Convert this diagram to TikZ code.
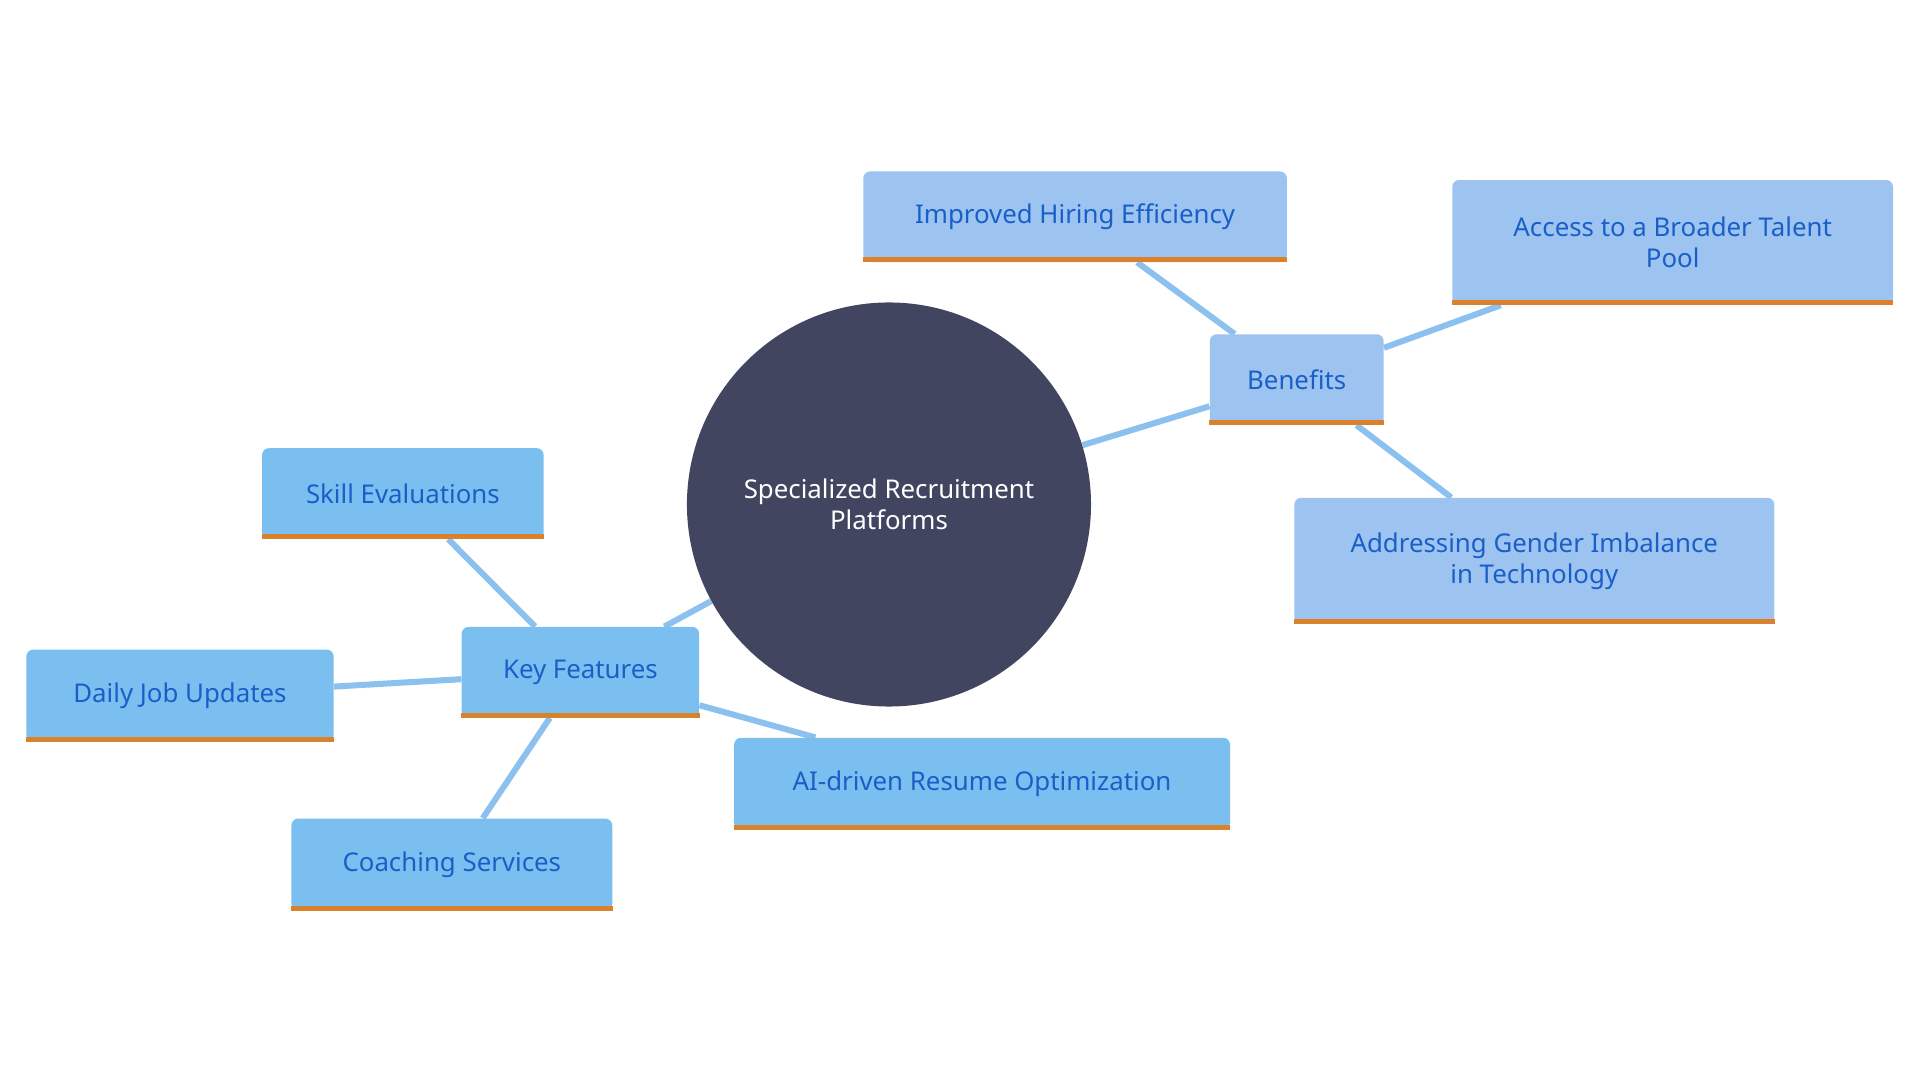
\documentclass[tikz,border=0pt]{standalone}
\usepackage{fontspec}
\setmainfont{Noto Sans}
\usetikzlibrary{backgrounds}
\definecolor{hub}{HTML}{414560}
\definecolor{benefit}{HTML}{9DC3F0}
\definecolor{feature}{HTML}{7BBFF0}
\definecolor{bluetext}{HTML}{1A5FC8}
\definecolor{edgeblue}{HTML}{8CC0EE}
\definecolor{bar}{HTML}{D9822B}
\tikzset{
  box/.style={rectangle, rounded corners=4pt, text=bluetext, align=center,
    font=\fontsize{15}{18}\selectfont, inner sep=0pt},
  ben/.style={box, fill=benefit},
  feat/.style={box, fill=feature},
  link/.style={edgeblue, line width=3.5pt},
}
\begin{document}
\begin{tikzpicture}[x=0.025cm, y=-0.025cm]
\useasboundingbox (0,0) rectangle (1568,882);

\node[circle, fill=hub, minimum size=330*0.025cm, text=white, align=center,
  font=\fontsize{15}{18}\selectfont] (hub) at (726,412) {Specialized Recruitment\\Platforms};

\node[ben, minimum width=346*0.025cm, minimum height=74*0.025cm] (hiring) at (878,177) {Improved Hiring Efficiency};
\node[ben, minimum width=360*0.025cm, minimum height=102*0.025cm] (talent) at (1366,198) {Access to a Broader Talent\\Pool};
\node[ben, minimum width=142*0.025cm, minimum height=74*0.025cm] (benefits) at (1059,310) {Benefits};
\node[ben, minimum width=392*0.025cm, minimum height=103*0.025cm] (gender) at (1253,458) {Addressing Gender Imbalance\\in Technology};

\node[feat, minimum width=230*0.025cm, minimum height=74*0.025cm] (skill) at (329,403) {Skill Evaluations};
\node[feat, minimum width=194*0.025cm, minimum height=74*0.025cm] (keyfeat) at (474,549) {Key Features};
\node[feat, minimum width=251*0.025cm, minimum height=75*0.025cm] (daily) at (147,568) {Daily Job Updates};
\node[feat, minimum width=405*0.025cm, minimum height=75*0.025cm] (resume) at (802,640) {AI-driven Resume Optimization};
\node[feat, minimum width=262*0.025cm, minimum height=75*0.025cm] (coach) at (369,706) {Coaching Services};

% bottom bars
\foreach \n in {hiring,talent,benefits,gender,skill,keyfeat,daily,resume,coach}
  \draw[bar, line width=3pt] ([yshift=1.5pt]\n.south west) -- ([yshift=1.5pt]\n.south east);

\begin{pgfonlayer}{background}
\draw[link] (hub) -- (benefits);
\draw[link] (hub) -- (keyfeat);
\draw[link] (benefits) -- (hiring);
\draw[link] (benefits) -- (talent);
\draw[link] (benefits) -- (gender);
\draw[link] (keyfeat) -- (skill);
\draw[link] (keyfeat) -- (daily);
\draw[link] (keyfeat) -- (resume);
\draw[link] (keyfeat) -- (coach);
\end{pgfonlayer}
\end{tikzpicture}
\end{document}
